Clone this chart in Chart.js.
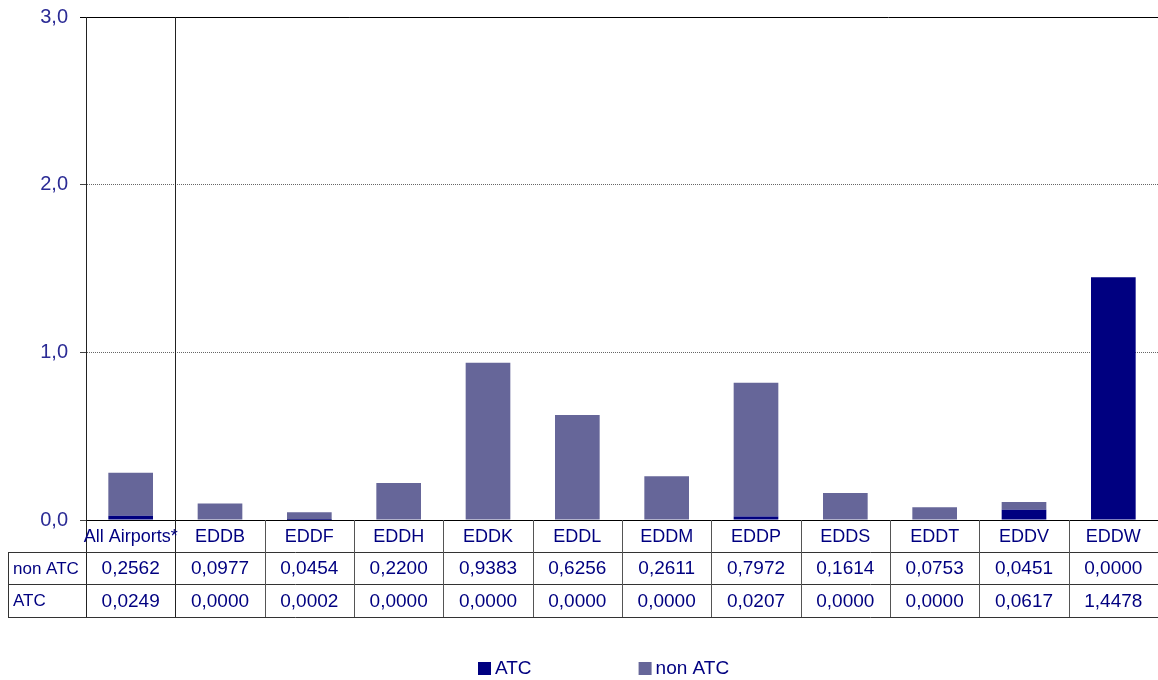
<!DOCTYPE html>
<html>
<head>
<meta charset="utf-8">
<script src="https://cdn.jsdelivr.net/npm/chart.js@4"></script>
<style>
  body { margin: 0; background: #fff; }
  #wrap { width: 1158px; height: 680px; }
</style>
</head>
<body>
<div id="wrap"><canvas id="chart"></canvas></div>
<script>
const categories = ["All Airports*", "EDDB", "EDDF", "EDDH", "EDDK", "EDDL", "EDDM", "EDDP", "EDDS", "EDDT", "EDDV", "EDDW"];
const nonAtc = [0.2562, 0.0977, 0.0454, 0.2200, 0.9383, 0.6256, 0.2611, 0.7972, 0.1614, 0.0753, 0.0451, 0.0000];
const atc = [0.0249, 0.0000, 0.0002, 0.0000, 0.0000, 0.0000, 0.0000, 0.0207, 0.0000, 0.0000, 0.0617, 1.4478];
const yTicks = [0, 1, 2, 3];

const FONT = "'Liberation Sans', Arial, sans-serif";
const TEXT = "#000080";
const fmt = (v, d) => v.toFixed(d).replace(".", ",");

// data table under the axis + legend, drawn from the datasets
const tablePlugin = {
  id: "dataTable",
  afterDraw(chart) {
    const { ctx, chartArea: area, scales: { x } } = chart;
    const half = (x.getPixelForValue(1) - x.getPixelForValue(0)) / 2;
    const rows = [area.bottom, area.bottom + 32, area.bottom + 64, area.bottom + 97];
    const left = 8;
    const px = (v) => Math.round(v) + 0.5;

    ctx.save();
    ctx.lineWidth = 1;
    ctx.strokeStyle = "#000";
    // top frame line
    ctx.beginPath();
    ctx.moveTo(area.left - 6, px(area.top));
    ctx.lineTo(area.right, px(area.top));
    ctx.stroke();

    // separator after "All Airports" and the axis, full height
    ctx.strokeStyle = "#222";
    [area.left, x.getPixelForValue(0) + half].forEach((xx) => {
      ctx.beginPath();
      ctx.moveTo(px(xx), area.top);
      ctx.lineTo(px(xx), rows[3]);
      ctx.stroke();
    });

    // horizontal table lines
    ctx.strokeStyle = "#333";
    rows.slice(1).forEach((y) => {
      ctx.beginPath();
      ctx.moveTo(left, px(y));
      ctx.lineTo(area.right, px(y));
      ctx.stroke();
    });
    ctx.beginPath();
    ctx.moveTo(px(left), px(rows[1]));
    ctx.lineTo(px(left), px(rows[3]));
    ctx.stroke();

    // cell separators
    ctx.strokeStyle = "#555";
    categories.forEach((c, i) => {
      if (i < 1) return;
      const xx = x.getPixelForValue(i) + half;
      ctx.beginPath();
      ctx.moveTo(px(xx), area.bottom);
      ctx.lineTo(px(xx), rows[3]);
      ctx.stroke();
    });

    // text
    ctx.fillStyle = TEXT;
    ctx.textBaseline = "middle";
    ctx.textAlign = "center";
    ctx.font = "18px " + FONT;
    categories.forEach((c, i) => {
      ctx.fillText(c, x.getPixelForValue(i), (rows[0] + rows[1]) / 2 + 1);
    });
    ctx.font = "19px " + FONT;
    nonAtc.forEach((v, i) => {
      ctx.fillText(fmt(v, 4), x.getPixelForValue(i), (rows[1] + rows[2]) / 2 + 1);
    });
    atc.forEach((v, i) => {
      ctx.fillText(fmt(v, 4), x.getPixelForValue(i), (rows[2] + rows[3]) / 2 + 1);
    });
    ctx.textAlign = "left";
    ctx.font = "17px " + FONT;
    ctx.fillText("non ATC", 13, (rows[1] + rows[2]) / 2 + 1);
    ctx.fillText("ATC", 13, (rows[2] + rows[3]) / 2 + 1);

    // legend
    ctx.font = "19px " + FONT;
    let lx = 478;
    const ly = 668;
    chart.data.datasets.forEach((ds) => {
      ctx.fillStyle = ds.backgroundColor;
      ctx.fillRect(lx, ly - 6, 13, 13);
      ctx.fillStyle = TEXT;
      ctx.fillText(ds.label, lx + 17, ly + 1);
      lx += 17 + ctx.measureText(ds.label).width + 107;
    });
    ctx.restore();
  }
};

new Chart(document.getElementById("chart"), {
  type: "bar",
  data: {
    labels: categories,
    datasets: [
      { label: "ATC", data: atc, backgroundColor: "#000080" },
      { label: "non ATC", data: nonAtc, backgroundColor: "#666699" },
    ],
  },
  options: {
    responsive: true,
    maintainAspectRatio: false,
    animation: false,
    layout: { padding: { top: 17, right: 0, left: 0, bottom: 0 } },
    datasets: { bar: { barPercentage: 0.5, categoryPercentage: 1.0, borderWidth: 0 } },
    plugins: { legend: { display: false }, tooltip: { enabled: false } },
    scales: {
      x: {
        stacked: true,
        grid: { display: false },
        border: { display: true, color: "#000" },
        ticks: { display: false },
        afterFit: (s) => { s.height = 160; s.paddingLeft = 0; s.paddingRight = 0; },
      },
      y: {
        stacked: true,
        min: 0,
        max: 3,
        afterBuildTicks: (s) => { s.ticks = yTicks.map((v) => ({ value: v })); },
        afterFit: (s) => { s.width = 86; s.paddingTop = 0; s.paddingBottom = 0; },
        border: { display: true, color: "#000", dash: [1, 1] },
        grid: { color: "#666", tickLength: 6, tickColor: "#444", tickBorderDash: [] },
        ticks: {
          padding: 12,
          color: "#2b2b95",
          font: { family: FONT, size: 20 },
          callback: (v) => fmt(v, 1),
        },
      },
    },
  },
  plugins: [tablePlugin],
});
</script>
</body>
</html>
